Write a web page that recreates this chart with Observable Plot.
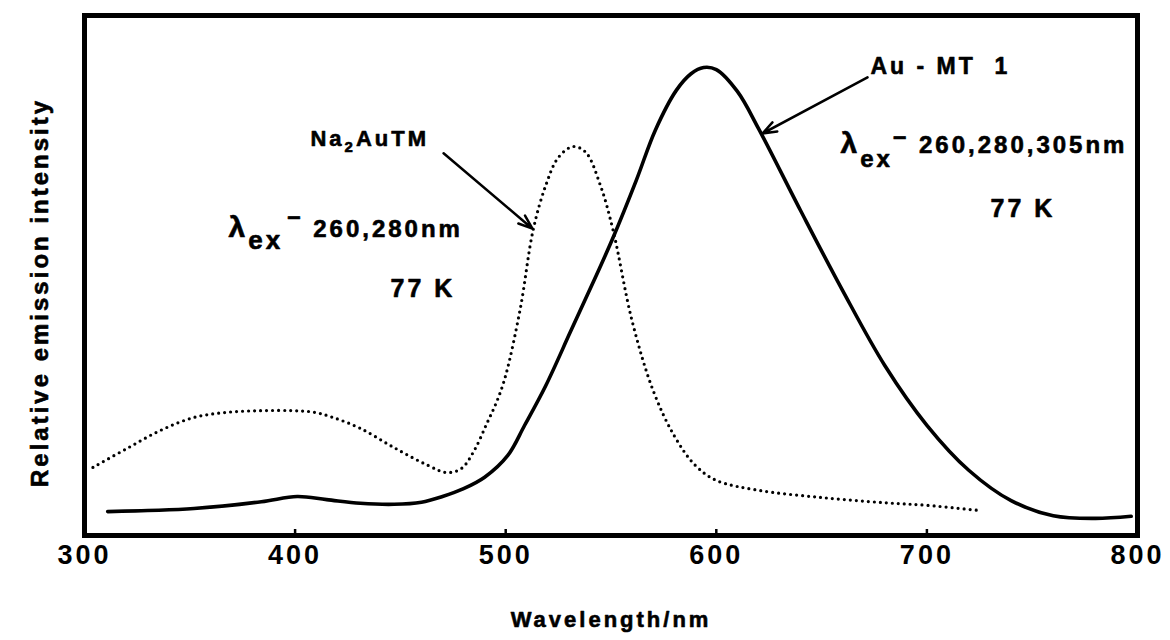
<!DOCTYPE html>
<html><head><meta charset="utf-8">
<script src="https://cdn.jsdelivr.net/npm/d3@7"></script>
<script src="https://cdn.jsdelivr.net/npm/@observablehq/plot@0.6"></script>
<style>
body{margin:0;background:#fff;}
#chart svg{display:block;}
</style></head><body><div id="chart"></div>
<script>
// Au-MT 1 (solid)
const auWavelength = [311,352,384,401,415,431,447,460,470,480,490,501,509,519,531,543,551,562,571,581,588,594,600,610,620,640,660,680,700,720,740,760,780,797];
const auIntensity  = [4.6,5.2,6.5,7.5,6.9,6.2,6.0,6.4,7.5,9.0,11.2,15.4,21.2,28.8,39.4,50.0,57.3,68.3,77.9,85.6,88.8,90.0,89.6,85.4,78.3,62.5,47.1,32.7,21.2,12.5,6.7,3.8,3.3,3.7];
// Na2AuTM (dotted)
const naWavelength = [304,320,336,352,368,384,399,409,418,431,447,463,472,479,485,491,496,500,507,513,519,525,532,538,545,551,560,570,580,590,600,620,650,680,700,725];
const naIntensity  = [13.1,16.7,20.2,22.7,23.7,24.0,24.0,23.7,22.7,20.6,16.9,13.5,12.1,12.9,16.3,21.5,26.0,30.8,43.8,58.7,67.3,72.7,74.8,73.7,67.3,58.7,41.3,27.9,19.2,13.5,10.6,8.7,7.3,6.3,5.8,4.8];
const xTicks = [300,400,500,600,700,800];
const innerTicks = [400,500,600,700];
const xLabel = "Wavelength/nm";
const yLabel = "Relative emission intensity";
const labelNa = "Na2AuTM";
const labelAu = "Au - MT 1";
const exLeft = "λex– 260,280nm";
const exRight = "λex– 260,280,305nm";
const tempLabel = "77 K";

const au = auWavelength.map((x, i) => ({x, y: auIntensity[i]}));
const na = naWavelength.map((x, i) => ({x, y: naIntensity[i]}));

const font = "'Liberation Sans', Arial, Helvetica, sans-serif";
const heavy = {fill: "black", stroke: "black", strokeWidth: 0.6};
const txt = (data, opts) => Plot.text(data, {textAnchor: "start", lineAnchor: "bottom", fontWeight: "bold", ...heavy, ...opts});

const chart = Plot.plot({
  width: 1170, height: 640,
  marginLeft: 84, marginRight: 33, marginTop: 15, marginBottom: 105,
  x: {domain: [300, 800], label: null},
  y: {domain: [0, 100], axis: null},
  style: {fontFamily: font, fontWeight: "bold", color: "black", background: "white", letterSpacing: "3px"},
  marks: [
    Plot.line(na, {x: "x", y: "y", curve: "catmull-rom", stroke: "black", strokeWidth: 3.2, strokeDasharray: "0,6", strokeLinecap: "round"}),
    Plot.line(au, {x: "x", y: "y", curve: "catmull-rom", stroke: "black", strokeWidth: 3.6}),
    Plot.frame({stroke: "black", strokeWidth: 5}),
    Plot.axisX({ticks: innerTicks, tickSize: 6, dy: -6, tickFormat: () => "", label: null, strokeWidth: 2.5}),
    Plot.axisX({ticks: xTicks, tickSize: 0, tickPadding: 9, fontSize: 27, label: null, tickFormat: d => String(d), ...heavy}),
    Plot.text([xLabel], {frameAnchor: "bottom", dy: 91, fontSize: 22, fontWeight: "bold", text: d => d, letterSpacing: "4.6px", ...heavy}),
    Plot.text([yLabel], {frameAnchor: "left", textAnchor: "middle", lineAnchor: "middle", dx: -44, dy: 17, rotate: -90, fontSize: 24, fontWeight: "bold", text: d => d, letterSpacing: "3px", ...heavy}),
    Plot.arrow([{x1: 470.5, y1: 73.5, x2: 512.7, y2: 59.0}], {x1: "x1", y1: "y1", x2: "x2", y2: "y2", stroke: "black", strokeWidth: 2.5, headLength: 9, headAngle: 40}),
    Plot.arrow([{x1: 671.8, y1: 88.1, x2: 621.9, y2: 77.3}], {x1: "x1", y1: "y1", x2: "x2", y2: "y2", stroke: "black", strokeWidth: 2.5, headLength: 9, headAngle: 40}),
    txt([labelNa], {x: () => 407.3, y: () => 75.0, text: d => d, fontSize: 22}),
    txt([labelAu], {x: () => 673.2, y: () => 88.8, text: d => d, fontSize: 23}),
    txt([exLeft], {x: () => 368.4, y: () => 57.5, text: d => d, fontSize: 24}),
    txt([exRight], {x: () => 659.0, y: () => 73.5, text: d => d, fontSize: 24}),
    txt([tempLabel], {x: () => 445.3, y: () => 45.8, text: d => d, fontSize: 25}),
    txt([tempLabel], {x: () => 730.2, y: () => 61.2, text: d => d, fontSize: 25})
  ]
});

// rich text (subscripts) for annotations
const rich = {
  [labelNa]: 'Na<tspan font-size="15" dy="6">2</tspan><tspan dy="-6">AuTM</tspan>',
  [labelAu]: 'Au\u00A0-\u00A0MT\u00A0\u00A01',
  [exLeft]: '<tspan font-size="30">λ</tspan><tspan font-size="26" dy="12">ex</tspan><tspan dy="-25" dx="4">–</tspan><tspan dy="13">\u00A0260,280nm</tspan>',
  [exRight]: '<tspan font-size="30">λ</tspan><tspan font-size="24" dy="14">ex</tspan><tspan dy="-23">–</tspan><tspan dy="9">\u00A0260,280,305nm</tspan>'
};
d3.select(chart).selectAll("text").each(function () {
  const t = this.textContent;
  if (rich[t] !== undefined) this.innerHTML = rich[t];
});

document.getElementById("chart").appendChild(chart);
</script></body></html>
